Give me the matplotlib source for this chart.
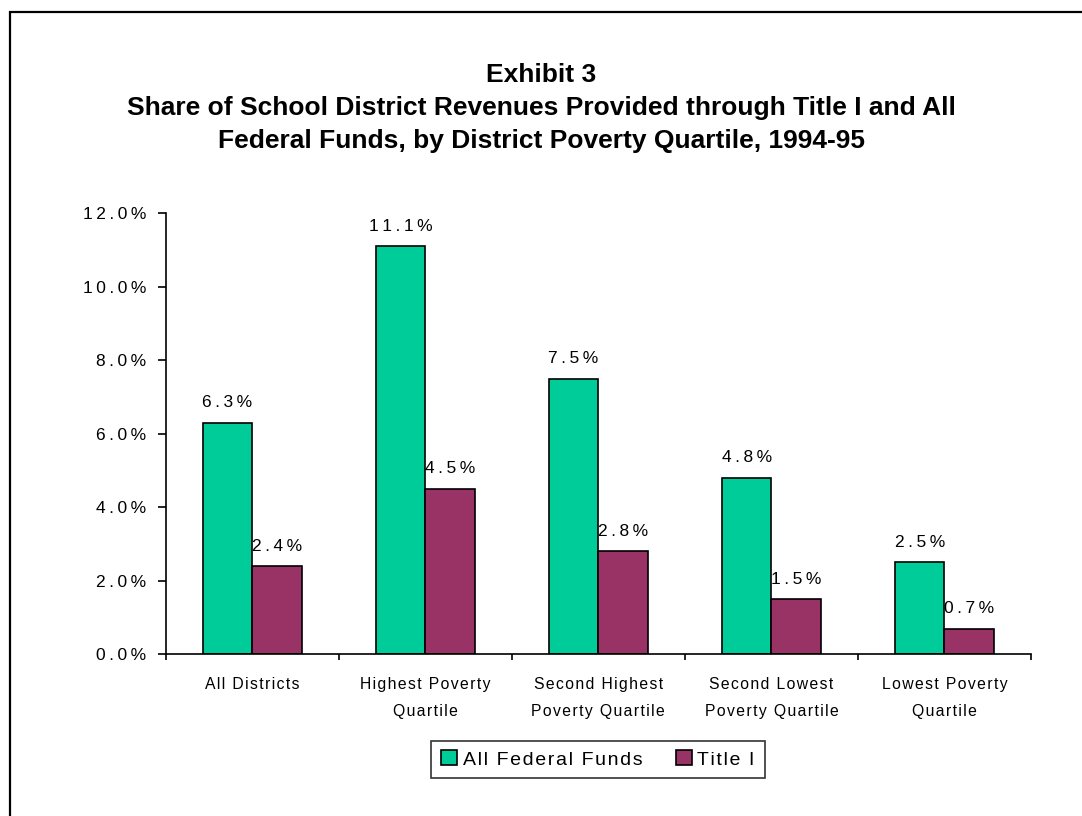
import numpy as np
import matplotlib
matplotlib.use("Agg")
import matplotlib.pyplot as plt
from matplotlib.patches import Rectangle
from matplotlib.ticker import FuncFormatter, FixedLocator

plt.rcParams['font.family'] = ['Liberation Sans', 'DejaVu Sans']

# datos
categorias = ["All Districts", "Highest Poverty\nQuartile", "Second Highest\nPoverty Quartile",
              "Second Lowest\nPoverty Quartile", "Lowest Poverty\nQuartile"]
federal = [6.3, 11.1, 7.5, 4.8, 2.5]
title1 = [2.4, 4.5, 2.8, 1.5, 0.7]
series = ["All Federal Funds", "Title I"]
colores = ["#00CC99", "#993366"]

# separa las letras (espaciado entre caracteres)
def espaciar(s, sep="\u200a"):
    return "\n".join(sep.join(linea) for linea in s.split("\n"))

fig = plt.figure(figsize=(10.82, 8.16), dpi=100)
W, H = 1082, 816

# marco exterior
fig.patches.append(Rectangle((10 / W, -0.1), 1.0, 1.1 - 12 / H, transform=fig.transFigure,
                             fill=False, edgecolor="black", linewidth=1.6))

ax = fig.add_axes([165.6 / W, 1 - 654.3 / H, (1031 - 165.6) / W, (654.3 - 213.3) / H])

x = np.arange(len(categorias))
ancho = 0.286
b1 = ax.bar(x - ancho / 2, federal, ancho, color=colores[0], edgecolor="black", linewidth=1.2,
            label=espaciar(series[0]))
b2 = ax.bar(x + ancho / 2, title1, ancho, color=colores[1], edgecolor="black", linewidth=1.2,
            label=espaciar(series[1]))

for barras, vals in ((b1, federal), (b2, title1)):
    for b, v in zip(barras, vals):
        ax.annotate(espaciar(f"{v:.1f}%", "\u2009"), (b.get_x() + b.get_width() / 2, v), xytext=(0, 9),
                    textcoords="offset points", ha="center", va="bottom", fontsize=12.5)

ax.set_xlim(-0.5, len(categorias) - 0.5)
ax.set_ylim(0, 12)
ax.set_yticks(np.arange(0, 12.1, 2))
ax.yaxis.set_major_formatter(FuncFormatter(lambda v, p: espaciar(f"{v:.1f}%", "\u2009")))
ax.tick_params(axis="y", labelsize=12.5, length=6, width=1.2, pad=8)

ax.xaxis.set_major_locator(FixedLocator(np.arange(-0.5, len(categorias), 1)))
ax.xaxis.set_major_formatter(FuncFormatter(lambda v, p: ""))
ax.set_xticks(x, minor=True)
ax.set_xticklabels([espaciar(c) for c in categorias], minor=True, fontsize=11.3, linespacing=2.0)
ax.tick_params(axis="x", which="major", length=4.5, width=1.2)
ax.tick_params(axis="x", which="minor", length=0, pad=16)

for lado in ("top", "right"):
    ax.spines[lado].set_visible(False)
for lado in ("left", "bottom"):
    ax.spines[lado].set_linewidth(1.2)

fig.text(0.5, 1 - 108 / H, "Exhibit 3\nShare of School District Revenues Provided through Title I and All\n"
         "Federal Funds, by District Poverty Quartile, 1994-95",
         ha="center", va="center", fontsize=19, fontweight="bold", linespacing=1.45)

leg = fig.legend(loc="center", bbox_to_anchor=(598 / W, 1 - 759.5 / H), ncol=2, fontsize=14,
                 frameon=True, fancybox=False, edgecolor="black", handlelength=0.82, handleheight=0.82,
                 handletextpad=0.3, columnspacing=1.7, borderpad=0.5, borderaxespad=0)
leg.get_frame().set_linewidth(1.2)

fig.savefig("out.png", dpi=100)
